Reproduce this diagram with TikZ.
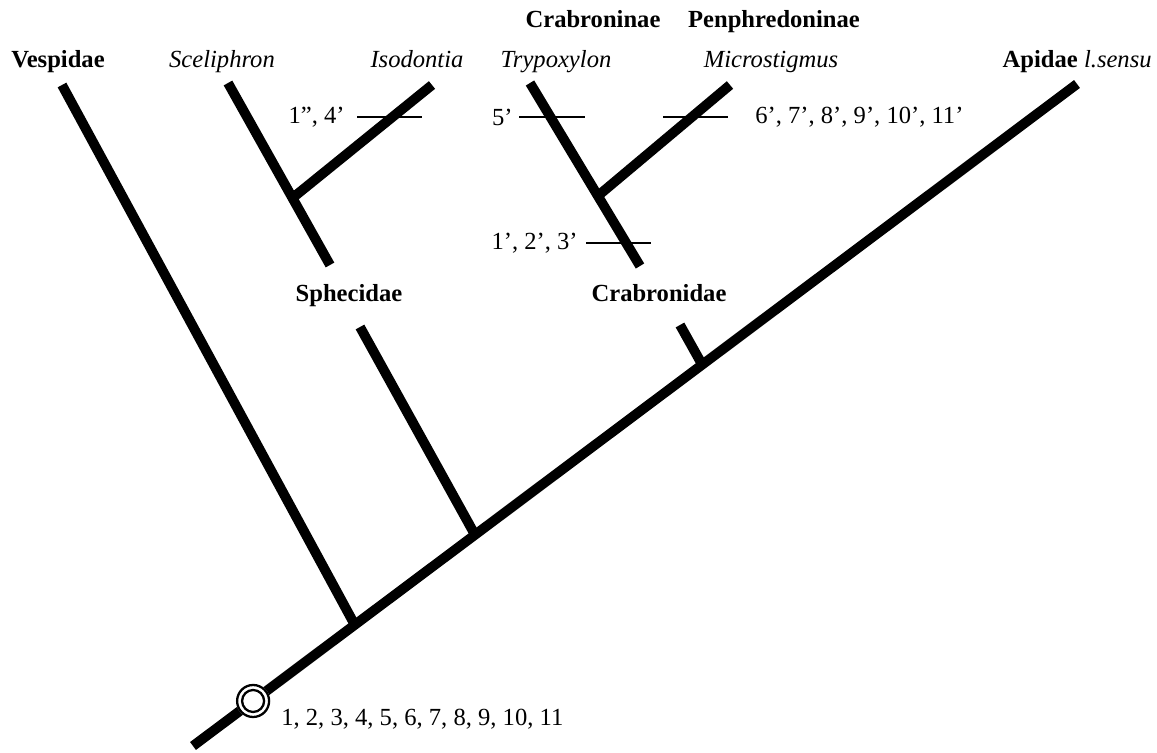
\documentclass[tikz,border=0pt]{standalone}
\usepackage{fontspec}
\setmainfont{Liberation Serif}
\usetikzlibrary{calc}

\begin{document}
\begin{tikzpicture}[x=0.02cm, y=-0.02cm,
    every node/.style={font=\fontsize{14}{16}\selectfont, inner sep=0pt},
    branch/.style={line width=5.6pt},
    apomorphy/.style={line width=1.7pt},
    family/.style={anchor=base, font=\fontsize{14}{16}\selectfont\bfseries},
    genus/.style={anchor=base, font=\fontsize{14}{16}\selectfont\itshape}]
  \useasboundingbox (0,0) rectangle (1157,753);
  % main stem
  \coordinate (root) at (193,746);
  \coordinate (apid) at (1077,84);
  \draw[branch] (root) -- (apid);
  \coordinate (vespTop) at (62,85);
  \coordinate (vespJ) at ($(root)!0.183!(apid)$);
  \draw[branch] (vespTop) -- (vespJ);
  \coordinate (sphecTop) at (360,327);
  \coordinate (sphecJ) at ($(root)!0.319!(apid)$);
  \draw[branch] (sphecTop) -- (sphecJ);
  \coordinate (crabTop) at (680,325);
  \coordinate (crabJ) at ($(root)!0.576!(apid)$);
  \draw[branch] (crabTop) -- (crabJ);
  % Sphecidae
  \coordinate (scelTop) at (228,83);
  \coordinate (scelBase) at (330,265);
  \coordinate (isodTop) at (432,85);
  \coordinate (isodJ) at ($(scelTop)!0.632!(scelBase)$);
  \draw[branch] (scelTop) -- (scelBase);
  \draw[branch] (isodTop) -- (isodJ);
  % Crabronidae
  \coordinate (trypTop) at (530,83);
  \coordinate (trypBase) at (640,266);
  \coordinate (micrTop) at (730,85);
  \coordinate (micrJ) at ($(trypTop)!0.617!(trypBase)$);
  \draw[branch] (trypTop) -- (trypBase);
  \draw[branch] (micrTop) -- (micrJ);
  % apomorphies
  \coordinate (t1a) at (357,117); \coordinate (t1b) at (422,117);
  \coordinate (t2a) at (519,117); \coordinate (t2b) at (585,117);
  \coordinate (t3a) at (663,117); \coordinate (t3b) at (728,117);
  \coordinate (t4a) at (586,243); \coordinate (t4b) at (651,243);
  \draw[apomorphy] (t1a) -- (t1b);
  \draw[apomorphy] (t2a) -- (t2b);
  \draw[apomorphy] (t3a) -- (t3b);
  \draw[apomorphy] (t4a) -- (t4b);
  \node[anchor=east] (l1) at ($(t1a)+(-12,0)$) {1”, 4’};
  \node[anchor=east] (l2) at ($(t2a)+(-6,0)$) {5’};
  \node[anchor=west] (l3) at ($(t3b)+(27,0)$) {6’, 7’, 8’, 9’, 10’, 11’};
  \node[anchor=east] (l4) at ($(t4a)+(-8,0)$) {1’, 2’, 3’};
  % ground plan
  \coordinate (gp) at ($(root)!0.068!(apid)$);
  \fill[white] (gp) circle (17);
  \draw[line width=1.3pt] (gp) circle (16);
  \draw[line width=1.3pt] (gp) circle (11);
  \node[anchor=west] (gpl) at (281,719) {1, 2, 3, 4, 5, 6, 7, 8, 9, 10, 11};
  % taxa
  \node[family] (vesp) at (58,68) {Vespidae};
  \node[genus] (scel) at (222,68) {Sceliphron};
  \node[genus] (isod) at (417,68) {Isodontia};
  \node[genus] (tryp) at (556,68) {Trypoxylon};
  \node[genus] (micr) at (771,68) {Microstigmus};
  \node[anchor=base east] (apidl) at (1152,68) {\textbf{Apidae} \textit{l.sensu}};
  \node[family] (crabsub) at (593,28) {Crabroninae};
  \node[family] (pemph) at (774,28) {Penphredoninae};
  \node[family] (sphec) at (349,302) {Sphecidae};
  \node[family] (crab) at (659,302) {Crabronidae};
\end{tikzpicture}
\end{document}
